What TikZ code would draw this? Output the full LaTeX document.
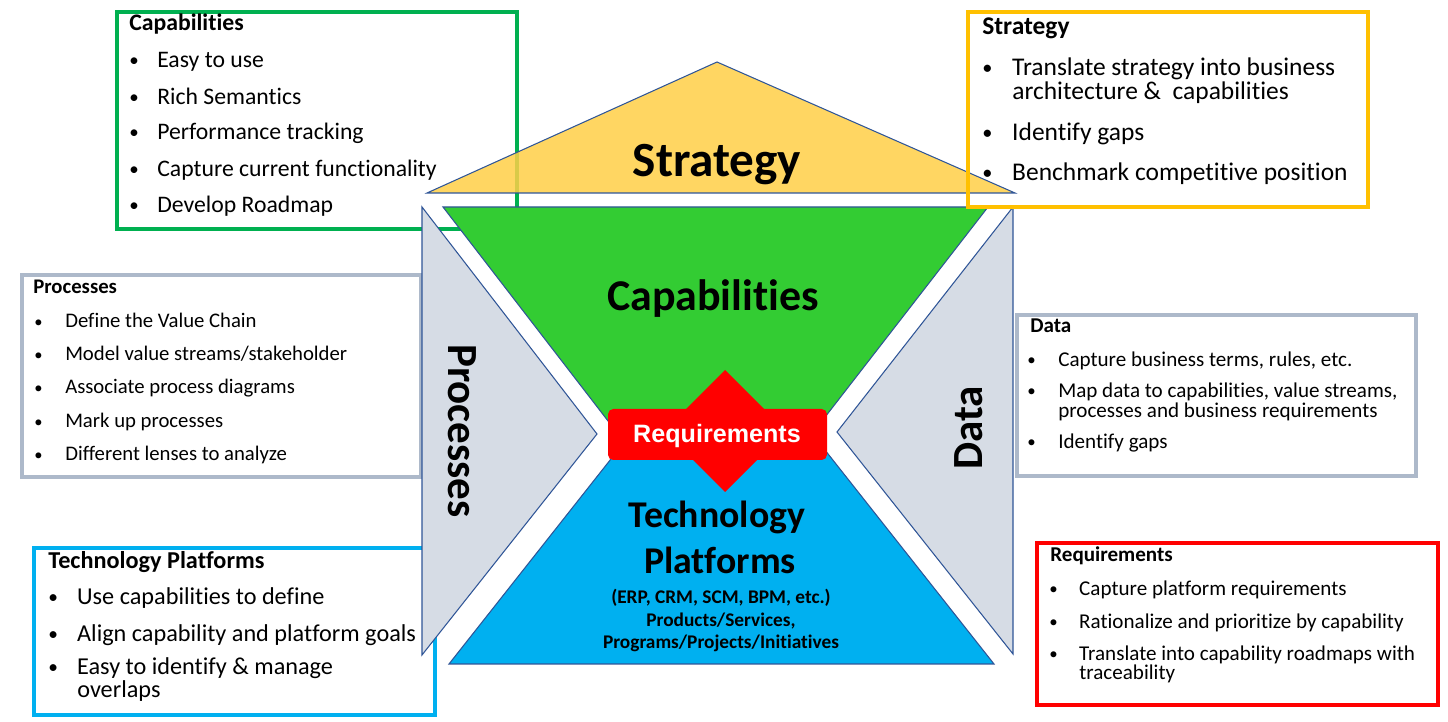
\documentclass[tikz,border=0pt]{standalone}
\usepackage{fontspec}
\setmainfont[Ligatures={NoCommon,NoContextual,NoRare}]{Carlito}
\newfontfamily\arialfont{Liberation Sans}
\usepackage{tikz}
\usetikzlibrary{positioning,calc}

\definecolor{capgreen}{HTML}{00B050}
\definecolor{capfill}{HTML}{33CC33}
\definecolor{strorange}{HTML}{FFC000}
\definecolor{strfill}{HTML}{FFCF47}
\definecolor{boxgray}{HTML}{ADB9CA}
\definecolor{trifill}{HTML}{D6DCE5}
\definecolor{techblue}{HTML}{00B0F0}
\definecolor{reqred}{HTML}{FF0000}
\definecolor{edgeblue}{HTML}{2F5597}

\newcommand{\bul}[1]{\makebox[#1][l]{\raisebox{0.1ex}{\scalebox{0.8}{\textbullet}}}}

\begin{document}
\begin{tikzpicture}[x=0.02cm,y=-0.02cm]
\tikzstyle{every node}+=[inner sep=0pt]
\tikzstyle{infobox}=[line width=2.2pt]
\tikzstyle{part}=[draw=edgeblue, line width=0.6pt]
\tikzstyle{txt}=[anchor=base west]
\tikzstyle{capsz}=[font=\fontsize{13.5pt}{16pt}\selectfont]
\tikzstyle{strsz}=[font=\fontsize{14.5pt}{17pt}\selectfont]
\tikzstyle{procsz}=[font=\fontsize{11.8pt}{14pt}\selectfont]
\tikzstyle{datasz}=[font=\fontsize{12pt}{14pt}\selectfont]
\tikzstyle{techsz}=[font=\fontsize{13.8pt}{16pt}\selectfont]
\tikzstyle{reqsz}=[font=\fontsize{12pt}{14pt}\selectfont]
\useasboundingbox (0,0) rectangle (1448,722);
% side boxes
\draw [capgreen, infobox] (117,12) rectangle (517,229);
\draw [boxgray, infobox] (22,275) rectangle (421,477);
\draw [techblue, infobox] (34,548) rectangle (435,715);
\draw [boxgray, infobox] (1017,315) rectangle (1416,476);
\draw [reqred, infobox] (1037,543) rectangle (1438,705);
% capabilities box
\node [txt, capsz] (capT) at (129,31) {\bfseries Capabilities};
\node [txt, capsz] (cap1) at (129,68) {\bul{15.9pt}Easy to use};
\node [txt, capsz] (cap2) at (129,105) {\bul{15.9pt}Rich Semantics};
\node [txt, capsz] (cap3) at (129,140) {\bul{15.9pt}Performance tracking};
\node [txt, capsz] (cap4) at (129,177) {\bul{15.9pt}Capture current functionality};
\node [txt, capsz] (cap5) at (129,213) {\bul{15.9pt}Develop Roadmap};
% processes box
\node [txt, procsz] (procT) at (33,294) {\bfseries Processes};
\node [txt, procsz] (proc1) at (34,328) {\bul{17.6pt}Define the Value Chain};
\node [txt, procsz] (proc2) at (34,361) {\bul{17.6pt}Model value streams/stakeholder};
\node [txt, procsz] (proc3) at (34,394) {\bul{17.6pt}Associate process diagrams};
\node [txt, procsz] (proc4) at (34,428) {\bul{17.6pt}Mark up processes};
\node [txt, procsz] (proc5) at (34,461) {\bul{17.6pt}Different lenses to analyze};
% technology box
\node [txt, techsz] (techT) at (48,569) {\bfseries Technology Platforms};
\node [txt, techsz] (tech1) at (48,605) {\bul{16.4pt}Use capabilities to define};
\node [txt, techsz] (tech2) at (48,642) {\bul{16.4pt}Align capability and platform goals};
\node [txt, techsz] (tech3) at (48,675) {\bul{16.4pt}Easy to identify \& manage};
\node [txt, techsz] (tech3b) at (77,698) {overlaps};
% data box
\node [txt, datasz] (dataT) at (1030,333) {\bfseries Data};
\node [txt, datasz] (data1) at (1027,367) {\bul{17.6pt}Capture business terms, rules, etc.};
\node [txt, datasz] (data2) at (1027,398) {\bul{17.6pt}Map data to capabilities, value streams,};
\node [txt, datasz] (data2b) at (1058,418) {processes and business requirements};
\node [txt, datasz] (data3) at (1027,449) {\bul{17.6pt}Identify gaps};
% requirements box
\node [txt, reqsz] (reqT) at (1050,562) {\bfseries Requirements};
\node [txt, reqsz] (req1) at (1049,596) {\bul{17pt}Capture platform requirements};
\node [txt, reqsz] (req2) at (1049,629) {\bul{17pt}Rationalize and prioritize by capability};
\node [txt, reqsz] (req3) at (1049,661) {\bul{17pt}Translate into capability roadmaps with};
\node [txt, reqsz] (req3b) at (1079,680) {traceability};
% central shapes
\draw [part, fill=strfill, fill opacity=0.85] (427,193) -- (717,62) -- (1015,193) -- cycle;
\draw [part, fill=capfill] (443,207) -- (988,207) -- (815,430) -- (615,430) -- cycle;
\draw [part, fill=techblue] (622,445) -- (821,445) -- (994,664) -- (449,664) -- cycle;
\draw [part, fill=trifill] (422,207) -- (597,434) -- (422,655) -- cycle;
\draw [part, fill=trifill] (1013,207) -- (837,432) -- (1013,654) -- cycle;
\fill [reqred] (725,370) -- (786,431) -- (725,492) -- (664,431) -- cycle;
\fill [reqred, rounded corners=3pt] (608,409) rectangle (827,460);
% central labels
\node [anchor=base, font=\fontsize{28pt}{30pt}\selectfont\bfseries] (strategy) at (717,177) {Strategy};
\node [anchor=base, font=\fontsize{25pt}{27pt}\selectfont\bfseries] (capabilities) at (713,311) {Capabilities};
\node [anchor=base, font=\fontsize{21.5pt}{24.5pt}\selectfont\bfseries] (technology) at (717,528) {Technology};
\node [anchor=base, font=\fontsize{21.5pt}{24.5pt}\selectfont\bfseries] (platforms) at (720,574) {Platforms};
\node [anchor=north, font=\fontsize{11pt}{12.7pt}\selectfont\bfseries, align=center] (products) at (721,589) {(ERP, CRM, SCM, BPM, etc.)\\Products/Services,\\Programs/Projects/Initiatives};
\node [rotate=-90, font=\fontsize{24.5pt}{26pt}\selectfont\bfseries] (processes) at (462,431) {Processes};
\node [rotate=90, font=\fontsize{24.5pt}{26pt}\selectfont\bfseries] (data) at (969,428) {Data};
\node [anchor=base, text=white, font=\arialfont\fontsize{14.3pt}{16pt}\selectfont\bfseries] (req) at (717,443) {Requirements};
% strategy box on top
\draw [strorange, infobox] (968,12) rectangle (1368,207);
\node [txt, strsz] (strT) at (982,35) {\bfseries Strategy};
\node [txt, strsz] (str1) at (982,76) {\bul{17pt}Translate strategy into business};
\node [txt, strsz] (str1b) at (1012,100) {architecture \&\ \ capabilities};
\node [txt, strsz] (str2) at (982,141) {\bul{17pt}Identify gaps};
\node [txt, strsz] (str3) at (982,181) {\bul{17pt}Benchmark competitive position};
\end{tikzpicture}
\end{document}
